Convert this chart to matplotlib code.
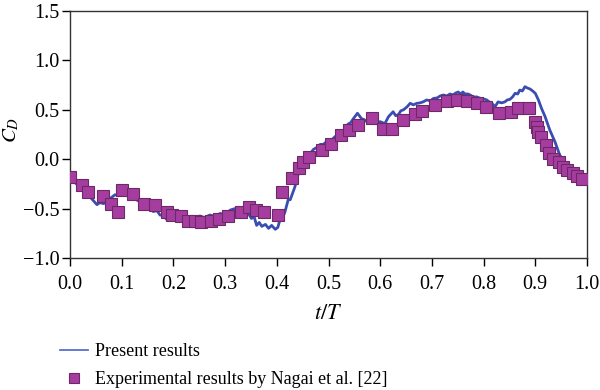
import matplotlib
matplotlib.use("Agg")
import matplotlib.pyplot as plt

# Present results (simulation line)
line_t = [0.000, 0.010, 0.020, 0.030, 0.042, 0.052, 0.058, 0.065, 0.072, 0.077, 0.087, 0.094,
          0.100, 0.108, 0.116, 0.125, 0.135, 0.142, 0.148, 0.155, 0.161, 0.168, 0.174, 0.181,
          0.187, 0.195, 0.203, 0.210, 0.216, 0.222, 0.232, 0.240, 0.251, 0.260, 0.271, 0.280,
          0.290, 0.300, 0.310, 0.319, 0.326, 0.332, 0.340, 0.345, 0.351, 0.356, 0.361, 0.366,
          0.371, 0.378, 0.384, 0.390, 0.397, 0.402, 0.406, 0.411, 0.416, 0.422, 0.426, 0.435,
          0.442, 0.448, 0.458, 0.465, 0.471, 0.478, 0.484, 0.490, 0.497, 0.505, 0.513, 0.519,
          0.525, 0.531, 0.538, 0.543, 0.548, 0.556, 0.564, 0.569, 0.574, 0.580, 0.586, 0.593,
          0.600, 0.609, 0.616, 0.625, 0.630, 0.635, 0.640, 0.645, 0.652, 0.658, 0.664, 0.671,
          0.677, 0.683, 0.690, 0.697, 0.703, 0.710, 0.716, 0.722, 0.729, 0.735, 0.741, 0.746,
          0.751, 0.755, 0.760, 0.764, 0.770, 0.774, 0.780, 0.787, 0.793, 0.800, 0.806, 0.811,
          0.816, 0.822, 0.828, 0.835, 0.841, 0.846, 0.851, 0.856, 0.861, 0.866, 0.870, 0.875,
          0.880, 0.885, 0.890, 0.895, 0.900, 0.906, 0.912, 0.919, 0.928, 0.938, 0.946, 0.957,
          0.967, 0.980, 0.990, 0.996]
line_v = [-0.20, -0.24, -0.28, -0.33, -0.40, -0.46, -0.44, -0.45, -0.42, -0.40, -0.36, -0.37,
          -0.345, -0.36, -0.38, -0.40, -0.43, -0.46, -0.50, -0.49, -0.53, -0.52, -0.565, -0.57,
          -0.61, -0.59, -0.60, -0.63, -0.60, -0.62, -0.58, -0.60, -0.575, -0.59, -0.565, -0.58,
          -0.55, -0.56, -0.515, -0.50, -0.53, -0.53, -0.56, -0.55, -0.60, -0.58, -0.67, -0.64,
          -0.68, -0.66, -0.70, -0.67, -0.71, -0.69, -0.615, -0.60, -0.53, -0.41, -0.41, -0.28,
          -0.14, -0.06, 0.025, 0.06, 0.10, 0.12, 0.15, 0.15, 0.18, 0.19, 0.23, 0.24,
          0.28, 0.30, 0.356, 0.37, 0.41, 0.465, 0.41, 0.40, 0.38, 0.43, 0.40, 0.37,
          0.38, 0.36, 0.43, 0.48, 0.44, 0.45, 0.49, 0.50, 0.53, 0.566, 0.55, 0.566,
          0.57, 0.58, 0.60, 0.59, 0.615, 0.62, 0.64, 0.65, 0.64, 0.66, 0.65, 0.67,
          0.68, 0.66, 0.68, 0.66, 0.66, 0.65, 0.63, 0.63, 0.617, 0.61, 0.60, 0.58,
          0.566, 0.53, 0.58, 0.57, 0.58, 0.60, 0.606, 0.63, 0.667, 0.66, 0.70, 0.69,
          0.734, 0.72, 0.71, 0.69, 0.667, 0.60, 0.515, 0.43, 0.296, 0.177, 0.06, -0.06,
          -0.11, -0.16, -0.18, -0.19]

# Experimental results by Nagai et al. [22]
exp_t = [0.000, 0.024, 0.035, 0.063, 0.079, 0.092, 0.100, 0.122, 0.143, 0.164, 0.187, 0.197,
         0.215, 0.229, 0.242, 0.253, 0.272, 0.289, 0.306, 0.330, 0.347, 0.359, 0.376, 0.402,
         0.411, 0.430, 0.443, 0.450, 0.462, 0.487, 0.505, 0.524, 0.540, 0.558, 0.584, 0.605,
         0.622, 0.645, 0.667, 0.681, 0.706, 0.729, 0.749, 0.768, 0.787, 0.805, 0.830, 0.853,
         0.867, 0.888, 0.900, 0.903, 0.906, 0.911, 0.920, 0.927, 0.935, 0.945, 0.953, 0.962,
         0.972, 0.981, 0.990]
exp_v = [-0.18, -0.26, -0.335, -0.37, -0.45, -0.53, -0.31, -0.355, -0.45, -0.46, -0.53, -0.565,
         -0.58, -0.63, -0.63, -0.64, -0.63, -0.605, -0.58, -0.53, -0.48, -0.51, -0.535, -0.565,
         -0.335, -0.19, -0.085, -0.03, 0.02, 0.09, 0.157, 0.24, 0.295, 0.346, 0.42, 0.306,
         0.306, 0.40, 0.457, 0.49, 0.55, 0.59, 0.60, 0.59, 0.566, 0.53, 0.465, 0.48,
         0.52, 0.52, 0.38, 0.33, 0.28, 0.22, 0.14, 0.06, 0.00, -0.025, -0.075, -0.11,
         -0.14, -0.17, -0.20]

x_ticks = [0.0, 0.1, 0.2, 0.3, 0.4, 0.5, 0.6, 0.7, 0.8, 0.9, 1.0]
y_ticks = [-1.0, -0.5, 0.0, 0.5, 1.0, 1.5]

plt.rcParams['font.family'] = ['Liberation Serif', 'DejaVu Serif']
plt.rcParams['mathtext.fontset'] = 'stix'

fig = plt.figure(figsize=(6.0, 3.9), dpi=100)
ax = fig.add_axes([0.1167, 0.3385, 0.8616, 0.6333])

ax.plot(line_t, line_v, color='#3a4db2', lw=2.0, label='Present results', zorder=2)
ax.plot(exp_t, exp_v, linestyle='none', marker='s', markersize=8.3,
        markerfacecolor='#a63c9f', markeredgecolor='#6b2a66', markeredgewidth=0.8,
        label='Experimental results by Nagai et al. [22]', zorder=3)

ax.set_xlim(0, 1.0)
ax.set_ylim(-1.0, 1.5)
ax.set_xticks(x_ticks)
ax.set_yticks(y_ticks)
ax.set_xticklabels([f"{v:.1f}" for v in x_ticks])
ax.set_yticklabels([f"{v:.1f}".replace('-', '\u2212') for v in y_ticks])
ax.tick_params(direction='out', length=5.5, width=1, labelsize=14.5, top=False, right=False)
ax.tick_params(axis='x', pad=7)
ax.tick_params(axis='y', pad=2)
for s in ax.spines.values():
    s.set_linewidth(1.0)
    s.set_color('#333333')

ax.set_xlabel(r'$t/T$', fontsize=16, labelpad=8)
ax.set_ylabel(r'$C_D$', fontsize=15)
ax.yaxis.set_label_coords(-0.094, 0.52)

h, l = ax.get_legend_handles_labels()
leg = fig.legend(h, l, loc='upper left', bbox_to_anchor=(60 / 600, 1 - 343 / 390), frameon=False,
                 fontsize=13, handlelength=1.55, handletextpad=0.4, labelspacing=0.6,
                 borderpad=0, borderaxespad=0, markerscale=0.85)
leg.legend_handles[0].set_color('#5b6fd0')
leg.legend_handles[0].set_linewidth(1.3)

fig.savefig('out.png', dpi=100)
